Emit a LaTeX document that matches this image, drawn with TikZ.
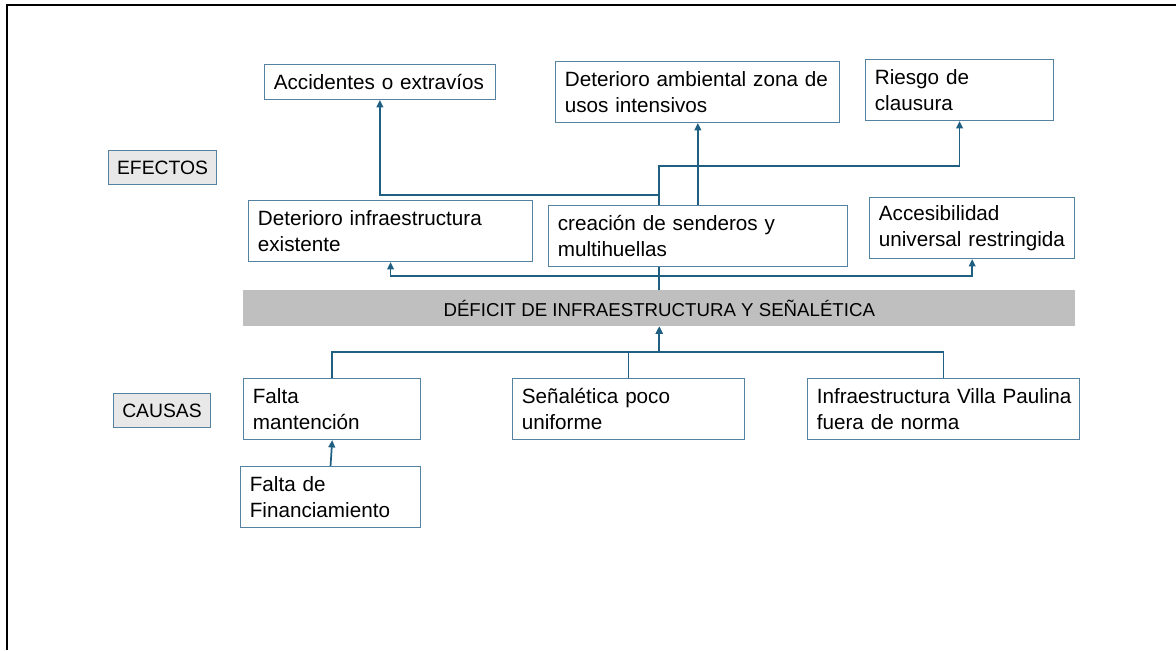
\documentclass[tikz,border=0pt]{standalone}
\usepackage{fontspec}
\setmainfont{Liberation Sans}
\usetikzlibrary{arrows.meta,calc}

\definecolor{boxcol}{RGB}{84,130,160}
\definecolor{linkcol}{RGB}{30,95,130}
\definecolor{tagfill}{RGB}{232,232,232}
\definecolor{barfill}{RGB}{191,191,191}

\tikzset{
  cbox/.style={draw=boxcol, line width=0.8pt, fill=white, anchor=north west,
    align=left, inner xsep=7pt, inner ysep=2pt,
    font=\fontsize{15.5}{19.5}\selectfont},
  tag/.style={draw=boxcol, line width=0.8pt, fill=tagfill, anchor=north west,
    inner sep=0pt, font=\fontsize{14.5}{17}\selectfont},
  link/.style={draw=linkcol, line width=1.3pt},
  arr/.style={link, -{Triangle[width=5pt,length=5.5pt]}}
}

\begin{document}
\begin{tikzpicture}[x=0.75pt,y=-0.75pt]
        % page size in px of the reference
        \useasboundingbox (0,0) rectangle (1176,650);
        \draw[line width=1.6pt] (7,650) -- (7,5) -- (1176,5);

        % central problem
        \node[fill=barfill, anchor=north west, minimum width=624pt, minimum height=27pt,
          inner sep=0pt, font=\fontsize{14}{17}\selectfont] (def) at (243,290)
          {DÉFICIT DE INFRAESTRUCTURA Y SEÑALÉTICA};

        % side tags
        \node[tag, minimum width=81pt, minimum height=25.5pt] (efe) at (108,150) {EFECTOS};
        \node[tag, minimum width=72.75pt, minimum height=25.5pt] (cau) at (113,393) {CAUSAS};

        % effects, upper row
        \node[cbox, text width=159pt, minimum height=26.25pt] (acc) at (264,64)
          {Accidentes o extravíos};
        \node[cbox, text width=199pt, minimum height=45.75pt] (amb) at (555,61)
          {\mbox{Deterioro ambiental zona de}\\usos intensivos};
        \node[cbox, text width=127pt, minimum height=45.75pt] (ris) at (865,59)
          {Riesgo de\\clausura};

        % effects, lower row
        \node[cbox, text width=199pt, minimum height=45.75pt] (dinf) at (248,200)
          {Deterioro infraestructura\\existente};
        \node[cbox, text width=210pt, minimum height=45.75pt] (cre) at (548,205)
          {creación de senderos y\\multihuellas};
        \node[cbox, text width=140pt, minimum height=45.75pt] (acce) at (869,197)
          {Accesibilidad\\\mbox{universal restringida}};

        % causes
        \node[cbox, text width=119pt, minimum height=45.75pt] (fman) at (243,378)
          {Falta\\mantención};
        \node[cbox, text width=160pt, minimum height=45.75pt] (sen) at (512,378)
          {Señalética poco\\uniforme};
        \node[cbox, text width=190pt, minimum height=45.75pt] (infv) at (807,378)
          {\mbox{Infraestructura Villa Paulina}\\fuera de norma};
        \node[cbox, text width=121pt, minimum height=45.75pt] (ffin) at (240,466)
          {Falta de\\Financiamiento};

        % links towards effects
        \coordinate (top) at (cre.north -| def.north);
        \draw[arr] (top) -- ++(0,-10) -| (acc.south);
        \draw[arr] (top) -- ++(0,-39) -| (ris.south);
        \draw[arr] (cre.north) -- (cre.north |- amb.south);
        \draw[link] (def.north) -- (cre.south -| def.north);
        \draw[arr] (def.north) -- ++(0,-14) -| (dinf.south);
        \draw[arr] (def.north) -- ++(0,-14) -| (acce.south);

        % links from causes
        \draw[arr] (fman.north) -- ++(0,-26) -| (def.south);
        \draw[arr] (sen.north) -- ++(0,-26) -| (def.south);
        \draw[arr] (infv.north) -- ++(0,-26) -| (def.south);
        \draw[arr] (ffin.north) -- (fman.south);
    \end{tikzpicture}
\end{document}
